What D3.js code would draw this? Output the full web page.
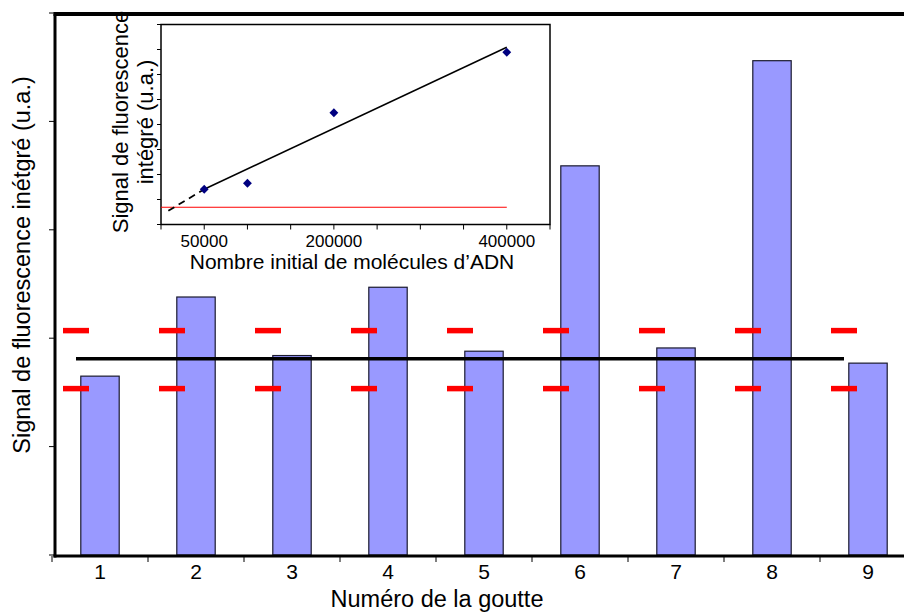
<!DOCTYPE html>
<html>
<head>
<meta charset="utf-8">
<script src="https://cdn.jsdelivr.net/npm/d3@7/dist/d3.min.js"></script>
<style>
  html, body { margin: 0; padding: 0; background: #fff; }
  svg { display: block; }
  text { font-family: "Liberation Sans", Arial, sans-serif; fill: #000; }
</style>
</head>
<body>
<svg id="chart" width="904" height="612"></svg>
<script>
// ---- Main chart data ----
const categories = [1, 2, 3, 4, 5, 6, 7, 8, 9];
const barValues = [1.65, 2.38, 1.84, 2.47, 1.88, 3.59, 1.91, 4.56, 1.77];
const meanValue = 1.81;
const upperLimit = 2.07;
const lowerLimit = 1.535;
const yTicks = [0, 1, 2, 3, 4, 5];

// ---- Inset data ----
const insetX = [50000, 100000, 200000, 400000];
const insetY = [1.41, 1.65, 4.47, 6.89];
const fitSolid = [[50000, 1.41], [400000, 7.09]];
const fitDashed = [[8500, 0.55], [50000, 1.41]];
const insetBaseline = [[0, 0.69], [400000, 0.69]];
const insetXTicks = [0, 50000, 100000, 150000, 200000, 250000, 300000, 350000, 400000, 450000];
const insetXLabels = [50000, 200000, 400000];
const insetYTicks = [0, 1, 2, 3, 4, 5, 6, 7, 8];

(function () {
const svg = d3.select("#chart");
svg.append("rect").attr("width", 904).attr("height", 612).attr("fill", "#fff");

// ---- Main scales ----
const mLeft = 55, mBottom = 556, mTop = 14;
const xBand = d3.scaleBand().domain(categories).range([52, 916]).paddingInner(0.6).paddingOuter(0.3);
const xCell = d3.scaleBand().domain(categories).range([52, 916]).padding(0);
const y = d3.scaleLinear().domain([0, 5]).range([555, 13]);
const center = d => xBand(d) + xBand.bandwidth() / 2;
const dashOffset = -0.25 * xCell.step();

// bars
svg.append("g").selectAll("rect").data(categories).join("rect")
  .attr("x", d => xBand(d))
  .attr("y", (d, i) => y(barValues[i]))
  .attr("width", xBand.bandwidth())
  .attr("height", (d, i) => y(0) - y(barValues[i]))
  .attr("fill", "#9999FF")
  .attr("stroke", "#1a1a2e")
  .attr("stroke-width", 1.2);

// mean line
svg.append("line")
  .attr("x1", center(categories[0]) + dashOffset)
  .attr("x2", center(categories[categories.length - 1]) + dashOffset)
  .attr("y1", y(meanValue)).attr("y2", y(meanValue))
  .attr("stroke", "#000").attr("stroke-width", 3.5);

// red dashes
[upperLimit, lowerLimit].forEach(v => {
  svg.append("g").selectAll("line").data(categories).join("line")
    .attr("x1", d => center(d) + dashOffset - 13)
    .attr("x2", d => center(d) + dashOffset + 13)
    .attr("y1", y(v)).attr("y2", y(v))
    .attr("stroke", "#FF0000").attr("stroke-width", 5.5);
});

// y ticks
svg.append("g").selectAll("line").data(yTicks).join("line")
  .attr("x1", mLeft - 6).attr("x2", mLeft)
  .attr("y1", d => y(d)).attr("y2", d => y(d))
  .attr("stroke", "#000").attr("stroke-width", 1);

// x ticks at cell boundaries
const bounds = categories.map(d => xCell(d)).concat([xCell(categories[categories.length - 1]) + xCell.step()]);
svg.append("g").selectAll("line").data(bounds).join("line")
  .attr("x1", d => d).attr("x2", d => d)
  .attr("y1", mBottom).attr("y2", mBottom + 6)
  .attr("stroke", "#000").attr("stroke-width", 1);

// x tick labels
svg.append("g").selectAll("text").data(categories).join("text")
  .attr("x", d => center(d)).attr("y", 579)
  .attr("text-anchor", "middle").attr("font-size", 21)
  .text(d => d);

// frame lines
svg.append("line").attr("x1", mLeft - 1.5).attr("x2", 904).attr("y1", mTop).attr("y2", mTop)
  .attr("stroke", "#000").attr("stroke-width", 4);
svg.append("line").attr("x1", mLeft).attr("x2", mLeft).attr("y1", mTop).attr("y2", mBottom + 1.5)
  .attr("stroke", "#000").attr("stroke-width", 3);
svg.append("line").attr("x1", mLeft - 1.5).attr("x2", 904).attr("y1", mBottom).attr("y2", mBottom)
  .attr("stroke", "#000").attr("stroke-width", 3);

// axis titles
svg.append("text").attr("x", 437).attr("y", 607).attr("text-anchor", "middle")
  .attr("font-size", 23.5).text("Numéro de la goutte");
svg.append("text").attr("transform", "translate(30,265) rotate(-90)")
  .attr("text-anchor", "middle").attr("font-size", 23.5)
  .text("Signal de fluorescence inétgré (u.a.)");

// ---- Inset ----
const ix = d3.scaleLinear().domain([0, 450000]).range([161, 550]);
const iy = d3.scaleLinear().domain([0, 8]).range([224.5, 24.5]);
const inset = svg.append("g");

inset.append("rect").attr("x", 161).attr("y", 24.5).attr("width", 389).attr("height", 200)
  .attr("fill", "#fff").attr("stroke", "#000").attr("stroke-width", 1.5);

inset.append("g").selectAll("line").data(insetXTicks).join("line")
  .attr("x1", d => ix(d)).attr("x2", d => ix(d))
  .attr("y1", iy(0)).attr("y2", iy(0) + 5)
  .attr("stroke", "#000").attr("stroke-width", 1);
inset.append("g").selectAll("line").data(insetYTicks).join("line")
  .attr("x1", ix(0) - 4).attr("x2", ix(0))
  .attr("y1", d => iy(d)).attr("y2", d => iy(d))
  .attr("stroke", "#000").attr("stroke-width", 1);

inset.append("g").selectAll("text").data(insetXLabels).join("text")
  .attr("x", d => ix(d)).attr("y", 247)
  .attr("text-anchor", "middle").attr("font-size", 17)
  .text(d => d);

const line = d3.line().x(d => ix(d[0])).y(d => iy(d[1]));
inset.append("path").attr("d", line(insetBaseline)).attr("stroke", "#FF0000").attr("stroke-width", 1.2).attr("fill", "none");
inset.append("path").attr("d", line(fitSolid)).attr("stroke", "#000").attr("stroke-width", 1.5).attr("fill", "none");
inset.append("path").attr("d", line(fitDashed)).attr("stroke", "#000").attr("stroke-width", 1.8)
  .attr("stroke-dasharray", "7,5").attr("fill", "none");

inset.append("g").selectAll("path").data(insetX).join("path")
  .attr("d", d3.symbol().type(d3.symbolDiamond2).size(50))
  .attr("transform", (d, i) => `translate(${ix(d)},${iy(insetY[i])})`)
  .attr("fill", "#000080");

inset.append("text").attr("x", 352).attr("y", 269).attr("text-anchor", "middle")
  .attr("font-size", 21).text("Nombre initial de molécules d’ADN");
inset.append("text").attr("transform", "translate(128,122) rotate(-90)")
  .attr("text-anchor", "middle").attr("font-size", 22).text("Signal de fluorescence");
inset.append("text").attr("transform", "translate(153,122) rotate(-90)")
  .attr("text-anchor", "middle").attr("font-size", 22).text("intégré  (u.a.)");
})();
</script>
</body>
</html>
